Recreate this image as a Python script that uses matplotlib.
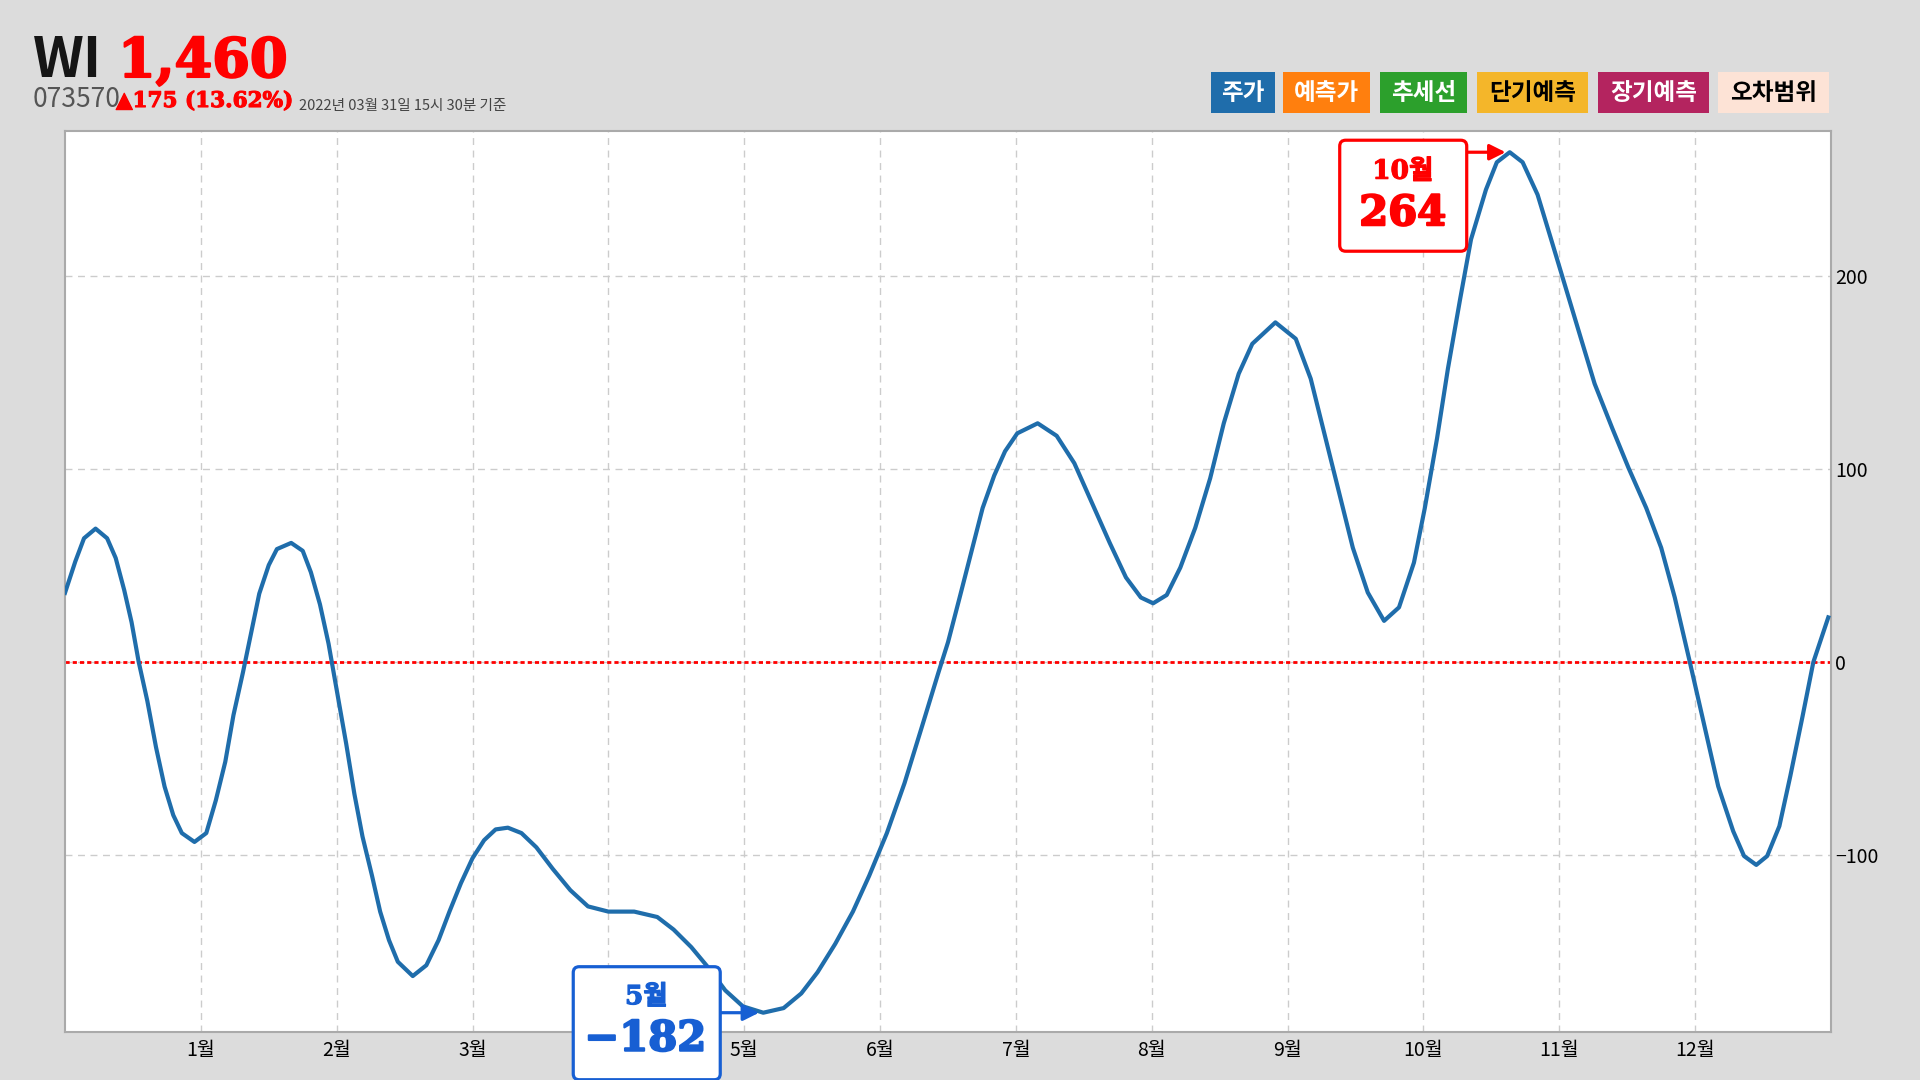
import matplotlib
matplotlib.use('Agg')
import matplotlib.pyplot as plt
import matplotlib.patheffects as pe
from matplotlib.patches import FancyBboxPatch, Rectangle
from matplotlib.transforms import IdentityTransform, Bbox

plt.rcParams['font.family'] = ['Noto Sans CJK KR', 'DejaVu Sans']

# x = month position (0 = start of series, 1 = 1월 ... 13 = end)
months = [0.00, 0.076, 0.14, 0.225, 0.31, 0.373, 0.436, 0.49, 0.542, 0.606,
          0.67, 0.733, 0.797, 0.86, 0.953, 1.04, 1.11, 1.18, 1.24, 1.31,
          1.37, 1.43, 1.50, 1.56, 1.665, 1.75, 1.81, 1.877, 1.94, 2.00,
          2.07, 2.13, 2.19, 2.26, 2.32, 2.385, 2.45, 2.56, 2.66, 2.75,
          2.83, 2.915, 3.00, 3.085, 3.17, 3.26, 3.36, 3.47, 3.59, 3.72,
          3.85, 4.00, 4.19, 4.36, 4.48, 4.61, 4.74, 4.86, 4.99, 5.14,
          5.29, 5.42, 5.54, 5.67, 5.80, 5.92, 6.05, 6.18, 6.31, 6.43,
          6.50, 6.585, 6.67, 6.755, 6.84, 6.92, 7.01, 7.16, 7.30, 7.43,
          7.56, 7.69, 7.81, 7.92, 8.01, 8.11, 8.21, 8.32, 8.43, 8.53,
          8.64, 8.74, 8.91, 9.06, 9.17, 9.27, 9.38, 9.48, 9.59, 9.71,
          9.82, 9.93, 10.01, 10.10, 10.18, 10.27, 10.35, 10.46, 10.54, 10.635,
          10.73, 10.84, 10.94, 11.05, 11.16, 11.26, 11.39, 11.51, 11.64, 11.75,
          11.85, 11.96, 12.07, 12.17, 12.28, 12.36, 12.45, 12.53, 12.62, 12.70,
          12.79, 12.87, 12.98]
values = [35.6, 51.9, 63.9, 68.9, 63.9, 53.7, 37.0, 20.4, 0.0, -20.4,
          -44.4, -64.8, -79.6, -88.9, -93.5, -88.9, -72.0, -51.9, -27.8, -5.6,
          14.8, 35.2, 50.0, 58.3, 61.5, 57.4, 46.3, 29.6, 9.3, -14.8,
          -42.6, -68.5, -90.7, -111.0, -129.6, -144.4, -155.6, -163.0, -157.4, -144.4,
          -129.6, -114.8, -101.9, -92.6, -87.0, -86.1, -88.9, -96.3, -107.4, -118.5,
          -126.9, -129.6, -129.6, -132.4, -138.9, -148.0, -159.0, -170.4, -178.7, -182.0,
          -179.6, -172.0, -161.0, -146.3, -129.6, -111.0, -88.9, -63.0, -33.3, -5.6,
          10.0, 33.0, 56.4, 79.6, 96.4, 109.0, 118.3, 123.5, 117.0, 102.8,
          82.2, 61.6, 43.6, 33.2, 30.2, 34.5, 48.7, 69.3, 95.0, 123.5,
          149.2, 164.7, 175.8, 167.3, 146.6, 118.3, 87.4, 59.0, 35.8, 21.1,
          28.1, 51.3, 79.6, 115.7, 151.8, 187.9, 218.8, 244.6, 258.8, 264.0,
          258.8, 242.0, 218.8, 193.0, 167.3, 144.0, 120.9, 100.3, 79.6, 59.0,
          33.2, 0.0, -33.8, -64.7, -87.9, -100.8, -105.4, -100.8, -85.3, -59.5,
          -28.6, -0.3, 22.9]

month_ticks = list(range(1, 13))
month_labels = [f'{m}월' for m in month_ticks]
y_ticks = [-100, 0, 100, 200]

legend_labels = ['주가', '예측가', '추세선', '단기예측', '장기예측', '오차범위']
legend_colors = ['#1f6dab', '#ff7f0e', '#2ca02c', '#f4b62a', '#b4245f', '#fde3d6']
legend_text_colors = ['white', 'white', 'white', 'black', 'white', 'black']

name = 'WI'
code = '073570'
price = 1460
change = 175
change_pct = 13.62
stamp = '2022년 03월 31일 15시 30분 기준'

W, H = 1920, 1080
fig = plt.figure(figsize=(19.2, 10.8), dpi=100, facecolor='#dcdcdc')
ax = fig.add_axes([65 / W, 1 - 1032 / H, 1766 / W, 901 / H])

ax.plot(months, values, color='#1f6dab', lw=3, zorder=3, solid_joinstyle='round')
ax.axhline(0, color='red', lw=2, linestyle=(0, (1.5, 1.1)), zorder=2)

ax.set_xlim(0, 13)
ax.set_ylim(-192, 275)
ax.set_xticks(month_ticks)
ax.set_xticklabels(month_labels)
ax.set_yticks(y_ticks)
ax.yaxis.tick_right()
ax.tick_params(axis='both', length=0, labelsize=14, colors='black')
ax.tick_params(axis='x', pad=6)
ax.tick_params(axis='y', pad=3)
ax.grid(True, color='#cccccc', lw=1, linestyle=(0, (5, 4)))
ax.set_axisbelow(True)
for s in ax.spines.values():
    s.set_color('#aaaaaa')
    s.set_linewidth(1.5)


def heavy(col, w=1.2):
    # thicken serif bold glyphs a little
    return [pe.withStroke(linewidth=w, foreground=col)]


# header
fig.text(33 / W, 1 - 77 / H, name, fontsize=40, fontweight='bold', color='#151515', va='baseline')
fig.text(118 / W, 1 - 77 / H, f'{price:,}', fontsize=39, fontweight='bold', color='red',
         family=['DejaVu Serif'], va='baseline', path_effects=heavy('red', 1.5))
fig.text(33 / W, 1 - 107 / H, code, fontsize=19, color='#555555', va='baseline')
fig.text(116 / W, 1 - 107 / H, f'▲{change} ({change_pct:.2f}%)', fontsize=15.5, fontweight='bold',
         color='red', family=['DejaVu Serif', 'DejaVu Sans'], va='baseline',
         path_effects=heavy('red', 0.8))
fig.text(299 / W, 1 - 110 / H, stamp, fontsize=10.5, color='#444444', va='baseline')

# legend boxes
box_x = [1211, 1283, 1380, 1477, 1598, 1718]
box_w = [64, 87, 87, 111, 111, 111]
for lab, c, tc, bx, bw in zip(legend_labels, legend_colors, legend_text_colors, box_x, box_w):
    fig.add_artist(Rectangle((bx / W, 1 - 113 / H), bw / W, 41 / H, transform=fig.transFigure,
                             facecolor=c, edgecolor='none'))
    fig.text((bx + bw / 2) / W, 1 - 93 / H, lab, fontsize=17, fontweight='bold', color=tc,
             ha='center', va='center')

# max / min callouts
imax = values.index(max(values))
imin = values.index(min(values))
callouts = [
    # index, colour, box (left, right, top, bottom offsets in px), month text, value text offsets
    (imax, 'red', (-170, -43, 12, -99), (-107, -19), (-107, -61)),
    (imin, '#175fd3', (-190, -43, 46, -67), (-117, 16), (-118, -26)),
]
fig.canvas.draw()
boxes = []
for i, col, (l, r, t, b), (mx, my), (vx, vy) in callouts:
    px, py = ax.transData.transform((months[i], values[i]))
    boxes.append(Bbox.from_extents(px + l, py + b, px + r, py + t))
    box = FancyBboxPatch((px + l, py + b), r - l, t - b, boxstyle='round,pad=0,rounding_size=6',
                         transform=IdentityTransform(), facecolor='white', edgecolor=col,
                         lw=2.3, zorder=5)
    fig.add_artist(box)
    fig.text(px + mx, py + my, f'{int(months[i])}월', transform=IdentityTransform(),
             fontsize=19, fontweight='bold', color=col, ha='center', va='center',
             family=['DejaVu Serif', 'Noto Sans CJK KR'], zorder=6,
             path_effects=heavy(col, 0.8))
    val = f'{round(values[i])}'.replace('-', '−')
    fig.text(px + vx, py + vy, val, transform=IdentityTransform(),
             fontsize=30, fontweight='bold', color=col, ha='center', va='center',
             family=['DejaVu Serif'], zorder=6, path_effects=heavy(col, 1.5))
    ax.annotate('', xy=(months[i], values[i]), xytext=(-44, 0), textcoords='offset pixels',
                arrowprops=dict(arrowstyle='-|>', color=col, lw=2.3, mutation_scale=24,
                                shrinkA=0, shrinkB=3), zorder=6)

# tick labels sitting under a callout box are hidden by it anyway
renderer = fig.canvas.get_renderer()
for lbl in ax.get_xticklabels():
    ext = lbl.get_window_extent(renderer)
    if any(ext.overlaps(bb) for bb in boxes):
        lbl.set_visible(False)

fig.savefig('out.png', dpi=100, facecolor=fig.get_facecolor())
